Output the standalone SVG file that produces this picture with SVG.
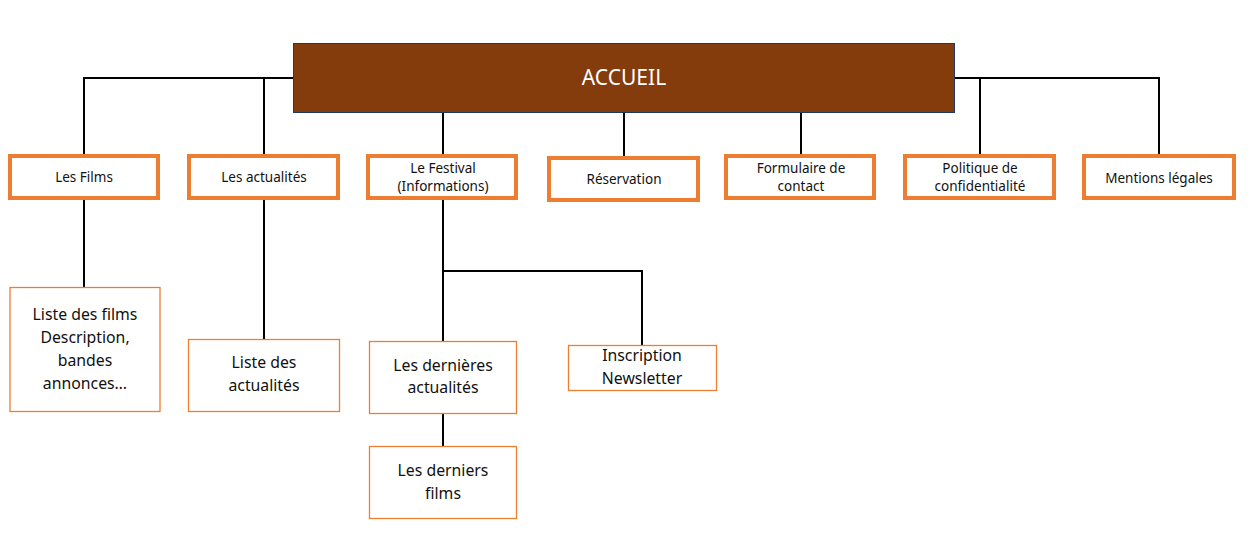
<svg xmlns="http://www.w3.org/2000/svg" width="1257" height="545" viewBox="0 0 1257 545">
<style>
text{font-family:"Noto Sans","Open Sans","Liberation Sans",sans-serif;fill:#111;text-anchor:middle}
.l1 rect{fill:#fff;stroke:#ED7D31;stroke-width:4}
.l1 text{font-size:13.5px}
.l2 rect{fill:#fff;stroke:#ED7D31;stroke-width:1.3}
.l2 text{font-size:15.8px}
#connectors path{fill:none;stroke:#000;stroke-width:2}
</style>
<rect width="1257" height="545" fill="#fff"/>
<g id="connectors">
<path d="M293,78 H84 V156"/>
<path d="M264,78 V156"/>
<path d="M955,78 H1159 V156"/>
<path d="M980,78 V156"/>
<path d="M443,113 V156"/>
<path d="M624,113 V158"/>
<path d="M801,113 V156"/>
<path d="M84,198 V287"/>
<path d="M264,198 V339"/>
<path d="M443,198 V341"/>
<path d="M443,271 H642 V345"/>
<path d="M443,413 V446"/>
</g>
<g id="accueil">
<rect x="293.5" y="43.5" width="661" height="69" fill="#843C0C" stroke="#1F3864" stroke-width="1"/>
<text x="624" y="85" style="font-size:21px;fill:#fff">ACCUEIL</text>
</g>
<g id="films" class="l1"><rect x="10" y="156" width="148" height="42"/><text x="84" y="182">Les Films</text></g>
<g id="actualites" class="l1"><rect x="189" y="156" width="149" height="42"/><text x="264" y="182">Les actualités</text></g>
<g id="festival" class="l1"><rect x="368" y="156" width="148" height="42"/><text x="443" y="173">Le Festival</text><text x="443" y="191">(Informations)</text></g>
<g id="reservation" class="l1"><rect x="549" y="158" width="149" height="42"/><text x="624" y="184">Réservation</text></g>
<g id="formulaire" class="l1"><rect x="726" y="156" width="148" height="42"/><text x="801" y="173">Formulaire de</text><text x="801" y="191">contact</text></g>
<g id="politique" class="l1"><rect x="905" y="156" width="149" height="42"/><text x="980" y="173">Politique de</text><text x="980" y="191">confidentialité</text></g>
<g id="mentions" class="l1"><rect x="1084" y="156" width="150" height="42"/><text x="1159" y="183">Mentions légales</text></g>
<g id="listefilms" class="l2"><rect x="10" y="287.5" width="150" height="124"/><text x="85" y="320">Liste des films</text><text x="85" y="343">Description,</text><text x="85" y="366">bandes</text><text x="85" y="389">annonces…</text></g>
<g id="listeactu" class="l2"><rect x="188.5" y="339.5" width="151" height="72"/><text x="264" y="368">Liste des</text><text x="264" y="391">actualités</text></g>
<g id="dernieresactu" class="l2"><rect x="369.5" y="341.5" width="147" height="72"/><text x="443" y="371">Les dernières</text><text x="443" y="393">actualités</text></g>
<g id="newsletter" class="l2"><rect x="568.5" y="345.5" width="148" height="45"/><text x="642" y="361">Inscription</text><text x="642" y="384">Newsletter</text></g>
<g id="derniersfilms" class="l2"><rect x="369.5" y="446.5" width="147" height="72"/><text x="443" y="476">Les derniers</text><text x="443" y="499">films</text></g>
</svg>
